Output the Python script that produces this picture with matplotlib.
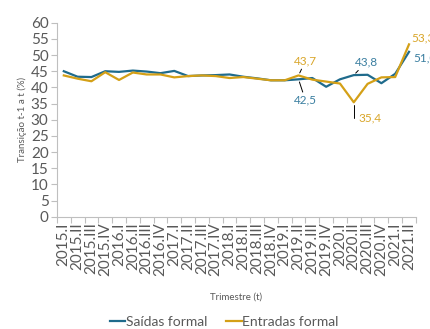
import numpy as np
import matplotlib
matplotlib.use('Agg')
import matplotlib.pyplot as plt

plt.rcParams['font.family'] = ['Lato', 'DejaVu Sans']

trimestres = ['2015.I', '2015.II', '2015.III', '2015.IV',
              '2016.I', '2016.II', '2016.III', '2016.IV',
              '2017.I', '2017.II', '2017.III', '2017.IV',
              '2018.I', '2018.II', '2018.III', '2018.IV',
              '2019.I', '2019.II', '2019.III', '2019.IV',
              '2020.I', '2020.II', '2020.III', '2020.IV',
              '2021.I', '2021.II']

saidas = [45.0, 43.3, 43.2, 45.0, 44.8, 45.2, 44.9, 44.4, 45.1, 43.5,
          43.7, 43.8, 44.0, 43.3, 42.8, 42.2, 42.2, 42.5, 42.9, 40.2,
          42.5, 43.8, 43.9, 41.3, 44.2, 51.0]
entradas = [43.7, 42.7, 41.9, 44.7, 42.3, 44.6, 44.0, 44.0, 43.1, 43.5,
            43.7, 43.5, 42.9, 43.2, 42.7, 42.2, 42.2, 43.7, 42.4, 41.8,
            41.2, 35.4, 41.1, 43.1, 43.2, 53.3]

BLUE = '#1f6b8c'
GOLD = '#d4a017'
BLUE_TXT = '#3a7ea0'
GOLD_TXT = '#d9a62a'
GRAY = '#595959'

fig = plt.figure(figsize=(4.31, 3.29), dpi=100)
ax = fig.add_axes([0.132, 0.341, 0.833, 0.590])

x = np.arange(len(trimestres))
ax.plot(x, saidas, color=BLUE, lw=1.6, label='Saídas formal')
ax.plot(x, entradas, color=GOLD, lw=1.6, label='Entradas formal')

ax.set_xlim(-0.5, len(trimestres) - 0.5)
ax.set_ylim(0, 60)
ax.set_yticks(np.arange(0, 61, 5))
ax.tick_params(axis='y', labelsize=11, colors=GRAY, length=4, width=0.8,
               color='#bfbfbf', pad=2)

ax.set_xticks(x)
ax.set_xticklabels(trimestres, rotation=90, fontsize=11, color=GRAY)
ax.tick_params(axis='x', which='major', length=0, pad=4)
ax.set_xticks(np.arange(-0.5, len(trimestres)), minor=True)
ax.tick_params(axis='x', which='minor', length=4, width=0.8, color='#bfbfbf')

for s in ['top', 'right']:
    ax.spines[s].set_visible(False)
for s in ['left', 'bottom']:
    ax.spines[s].set_color('#bfbfbf')
    ax.spines[s].set_linewidth(0.8)

ax.set_ylabel('Transição t-1 a t (%)', fontsize=7, color=GRAY, labelpad=3)
ax.set_xlabel('Trimestre (t)', fontsize=7, color=GRAY, labelpad=12)

# value labels with leader lines
i19 = trimestres.index('2019.II')
i20 = trimestres.index('2020.II')
last = len(trimestres) - 1
lead = dict(arrowstyle='-', color='black', lw=0.7, shrinkA=0, shrinkB=2)

ax.annotate(f'{entradas[i19]:.1f}'.replace('.', ','), xy=(i19, entradas[i19]),
            xytext=(i19 + 0.5, 48.2), color=GOLD_TXT, fontsize=8.5,
            ha='center', va='center', arrowprops=lead)
ax.annotate(f'{saidas[i19]:.1f}'.replace('.', ','), xy=(i19, saidas[i19]),
            xytext=(i19 + 0.5, 36.0), color=BLUE_TXT, fontsize=8.5,
            ha='center', va='center', arrowprops=lead)
ax.annotate(f'{saidas[i20]:.1f}'.replace('.', ','), xy=(i20, saidas[i20]),
            xytext=(i20 + 0.9, 47.8), color=BLUE_TXT, fontsize=8.5,
            ha='center', va='center', arrowprops=lead)
ax.annotate(f'{entradas[i20]:.1f}'.replace('.', ','), xy=(i20, entradas[i20]),
            xytext=(i20 + 0.35, 30.6), color=GOLD_TXT, fontsize=8.5,
            ha='left', va='center',
            arrowprops=dict(arrowstyle='-', color='black', lw=0.7,
                            shrinkA=1, shrinkB=2,
                            connectionstyle='angle,angleA=0,angleB=90,rad=0'))
ax.annotate(f'{entradas[last]:.1f}'.replace('.', ','), xy=(last, entradas[last]),
            xytext=(last + 0.2, 55.3), color=GOLD_TXT, fontsize=8.5,
            ha='left', va='center', annotation_clip=False)
ax.annotate(f'{saidas[last]:.1f}'.replace('.', ','), xy=(last, saidas[last]),
            xytext=(last + 0.3, 49.0), color=BLUE_TXT, fontsize=8.5,
            ha='left', va='center', annotation_clip=False)

fig.legend(loc='lower center', bbox_to_anchor=(0.52, -0.035), ncol=2,
           frameon=False, fontsize=10, handlelength=1.1, handletextpad=0.05,
           columnspacing=1.4, labelcolor=GRAY)

fig.savefig('out.png', dpi=100)
